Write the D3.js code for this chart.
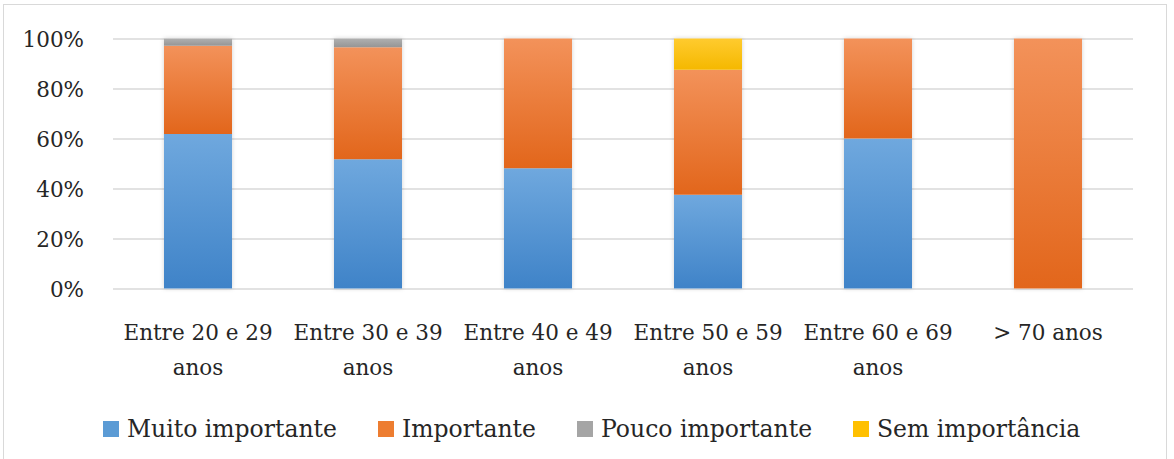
<!DOCTYPE html>
<html><head><meta charset="utf-8">
<script src="https://cdn.jsdelivr.net/npm/d3@7/dist/d3.min.js"></script>
<style>body{margin:0;background:#fff}svg{display:block}</style>
</head><body>
<svg id="c" width="1174" height="459"></svg>
<script>
const categories = [["Entre 20 e 29","anos"],["Entre 30 e 39","anos"],["Entre 40 e 49","anos"],["Entre 50 e 59","anos"],["Entre 60 e 69","anos"],["> 70 anos"]];
const seriesNames = ["Muito importante","Importante","Pouco importante","Sem importância"];
const muitoImportante = [61.8, 51.7, 48.1, 37.5, 60, 0];
const importante      = [35.3, 44.8, 51.9, 50, 40, 100];
const poucoImportante = [2.9, 3.5, 0, 0, 0, 0];
const semImportancia  = [0, 0, 0, 12.5, 0, 0];
const yTicks = [0, 20, 40, 60, 80, 100];
const colors = [["#6fa8de","#3f83c8"],["#f3925a","#e2661b"],["#b0b0b0","#959595"],["#ffcb2e","#f5b800"]];
const legendColors = ["#5b9bd5","#ed7d31","#a5a5a5","#ffc000"];

const svg = d3.select("#c");
const font = "'DejaVu Serif', serif";
const pL=113, pR=1133, pT=38.5, pB=288.5;

svg.append("rect").attr("x",3.5).attr("y",4.5).attr("width",1163).attr("height",470)
  .attr("fill","#fff").attr("stroke","#d9d9d9");

const defs = svg.append("defs");
colors.forEach((c,i)=>{
  const g = defs.append("linearGradient").attr("id","g"+i).attr("x1",0).attr("y1",0).attr("x2",0).attr("y2",1);
  g.append("stop").attr("offset","0%").attr("stop-color",c[0]);
  g.append("stop").attr("offset","100%").attr("stop-color",c[1]);
});
const f = defs.append("filter").attr("id","sh").attr("x","-20%").attr("y","-5%").attr("width","140%").attr("height","110%");
f.append("feDropShadow").attr("dx",0).attr("dy",0).attr("stdDeviation",2).attr("flood-color","#000").attr("flood-opacity",0.18);

const x = d3.scaleBand().domain(d3.range(categories.length)).range([pL,pR]).paddingInner(0.6).paddingOuter(0.3);
const y = d3.scaleLinear().domain([0,100]).range([pB,pT]);

const yAxis = d3.axisLeft(y).tickValues(yTicks).tickSize(-(pR-pL)).tickFormat(d=>d+"%");
const ga = svg.append("g").attr("transform",`translate(${pL},0)`).call(yAxis);
ga.select(".domain").remove();
ga.selectAll(".tick line").attr("stroke","#d9d9d9").attr("stroke-width",1.3);
ga.selectAll(".tick text").attr("x",-29).attr("dy","0.36em").attr("font-family",font).attr("font-size",21.5).attr("fill","#262626");

const seriesVals = [muitoImportante, importante, poucoImportante, semImportancia];
const rows = categories.map((c,i)=>{const o={i}; seriesNames.forEach((s,k)=>o[s]=seriesVals[k][i]); return o;});
const stack = d3.stack().keys(seriesNames)(rows);

const bars = svg.append("g");
bars.selectAll("rect.bg").data(rows).join("rect")
  .attr("x",d=>x(d.i)).attr("width",x.bandwidth())
  .attr("y",y(100)).attr("height",y(0)-y(100)).attr("fill","#fff").attr("filter","url(#sh)");
stack.forEach((layer,k)=>{
  bars.selectAll("rect.s"+k).data(layer.filter(d=>d[1]-d[0]>0)).join("rect")
    .attr("class","s"+k)
    .attr("x",d=>x(d.data.i)).attr("width",x.bandwidth())
    .attr("y",d=>y(d[1])).attr("height",d=>y(d[0])-y(d[1]))
    .attr("fill","url(#g"+k+")");
});

const xl = svg.append("g");
categories.forEach((lines,i)=>{
  const t = xl.append("text").attr("text-anchor","middle").attr("font-family",font).attr("font-size",21.5).attr("fill","#262626");
  lines.forEach((ln,j)=>t.append("tspan").attr("x",x(i)+x.bandwidth()/2).attr("y",340+j*35).text(ln));
});

const legX = [103, 378, 577, 853];
const lg = svg.append("g");
seriesNames.forEach((s,k)=>{
  lg.append("rect").attr("x",legX[k]).attr("y",421).attr("width",16).attr("height",16).attr("fill",legendColors[k]);
  lg.append("text").attr("x",legX[k]+24).attr("y",437).attr("font-family",font).attr("font-size",23.5).attr("fill","#262626").text(s);
});
</script>
</body></html>
